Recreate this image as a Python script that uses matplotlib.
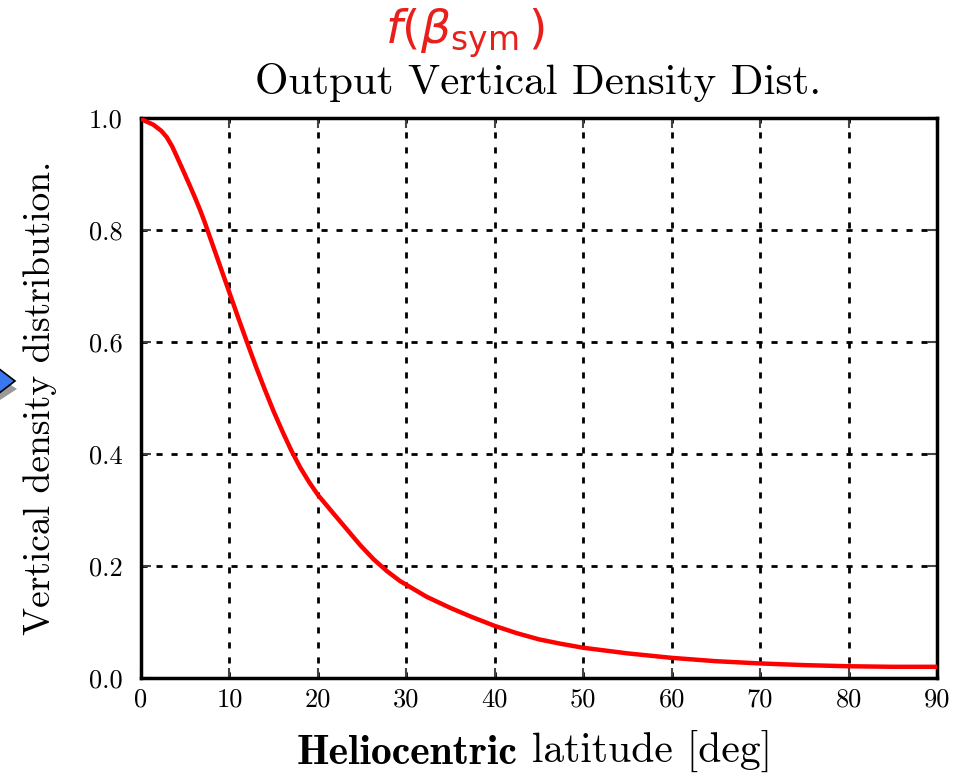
import matplotlib
matplotlib.use("Agg")
import matplotlib.pyplot as plt
from matplotlib.patches import Polygon

# Data
latitude = [0, 0.3, 1.4, 2.3, 2.9, 3.5, 4.0, 4.8, 5.5, 6.1, 6.7, 7.2, 8, 9, 10, 11,
            12, 13, 14, 15, 16, 17, 18, 19, 20, 21.8, 23.3, 24.8, 26.3, 27.8, 29.3,
            32.3, 35, 37.4, 40, 42.5, 45, 47.5, 50, 55, 60, 65, 70, 75, 80, 85, 90]
density = [1.0, 0.996, 0.988, 0.977, 0.966, 0.950, 0.933, 0.905, 0.880, 0.858,
           0.835, 0.814, 0.778, 0.733, 0.688, 0.643, 0.599, 0.556, 0.515, 0.476,
           0.440, 0.406, 0.376, 0.350, 0.327, 0.293, 0.265, 0.237, 0.212, 0.191,
           0.173, 0.145, 0.125, 0.109, 0.093, 0.080, 0.069, 0.061, 0.054, 0.044,
           0.036, 0.030, 0.026, 0.023, 0.021, 0.020, 0.020]
x_ticks = [0, 10, 20, 30, 40, 50, 60, 70, 80, 90]
y_ticks = [0.0, 0.2, 0.4, 0.6, 0.8, 1.0]

plt.rcParams['mathtext.fontset'] = 'dejavusans'
serif = 'cmr10'
serif_bold = 'cmb10'

W, H = 976, 776
fig = plt.figure(figsize=(W / 100, H / 100), dpi=100)
ax = fig.add_axes([141 / W, (H - 678) / H, (937 - 141) / W, (678 - 118) / H])

ax.plot(latitude, density, color='#ff0000', lw=3.2, solid_joinstyle='round', zorder=3)

ax.set_xlim(0, 90)
ax.set_ylim(0, 1.0)
ax.set_xticks(x_ticks)
ax.set_yticks(y_ticks)
ax.set_xticklabels([str(v) for v in x_ticks], fontfamily=serif, fontsize=19)
ax.set_yticklabels([f"{v:.1f}" for v in y_ticks], fontfamily=serif, fontsize=19)
ax.tick_params(axis='both', direction='in', length=7, width=1.5, top=True, right=True,
               color='#444444')
ax.tick_params(axis='y', pad=13)
ax.tick_params(axis='x', pad=7)
ax.grid(True, color='black', lw=2.0, linestyle=(0, (2.2, 3.2)))
for s in ax.spines.values():
    s.set_linewidth(2.5)
    s.set_color('black')

# y label
fig.text(40 / W, 1 - 398 / H, 'Vertical density distribution.', fontfamily=serif,
         fontsize=27, rotation=90, ha='center', va='center')

# x label: bold "Heliocentric" followed by regular "latitude [deg]"
t1 = fig.text(297 / W, 1 - 772 / H, 'Heliocentric', fontfamily=serif_bold,
              fontsize=30, ha='left', va='bottom')
ax.annotate(' latitude [deg]', xy=(1, 0), xycoords=t1, ha='left', va='bottom',
            fontfamily=serif, fontsize=30, annotation_clip=False)

fig.text(538 / W, 1 - 82 / H, 'Output Vertical Density Dist.', fontfamily=serif,
         fontsize=31, ha='center', va='center')
fig.text(465 / W, 1 - 33 / H, r'$f(\beta_{\rm sym}\,)$', color='#e8201c',
         fontsize=34, ha='center', va='center')

# blue arrow decoration partially visible at the left edge
shadow = Polygon([(0, 1 - 378 / H), (17 / W, 1 - 389 / H), (0, 1 - 400 / H)],
                 closed=True, transform=fig.transFigure, facecolor='#9a9a9a',
                 edgecolor='none')
arrow = Polygon([(-2 / W, 1 - 368 / H), (15 / W, 1 - 381 / H), (-2 / W, 1 - 394 / H)],
                closed=True, transform=fig.transFigure, facecolor='#3a78f0',
                edgecolor='black', lw=1.2)
fig.patches.extend([shadow, arrow])

fig.savefig('out.png', dpi=100)
